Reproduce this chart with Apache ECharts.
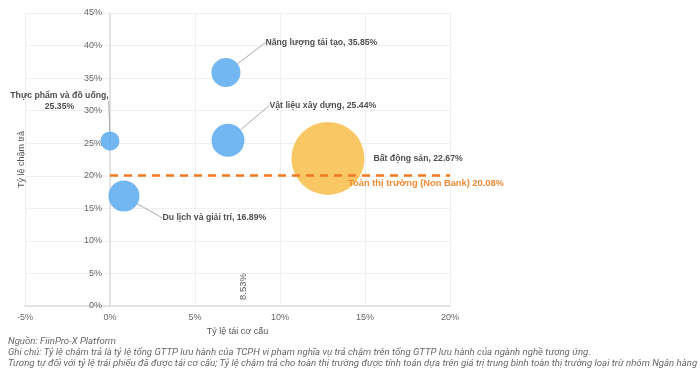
<!DOCTYPE html>
<html><head><meta charset="utf-8">
<script src="https://cdn.jsdelivr.net/npm/echarts@6/dist/echarts.min.js"></script>
<style>html,body{margin:0;padding:0;background:#fff}#c{width:700px;height:382px}</style>
</head><body><div id="c"></div>
<script>
var sectors = ['Năng lượng tái tạo', 'Thực phẩm và đồ uống', 'Vật liệu xây dựng', 'Du lịch và giải trí', 'Bất động sản'];
var restructureRate = [6.82, 0.0, 6.94, 0.82, 12.82];   // x, %
var lateRate = [35.85, 25.35, 25.44, 16.89, 22.67];      // y, %
var bubbleSize = [8.4, 3.6, 10.9, 9.6, 53.3];            // bubble magnitude
var sectorColor = ['blue', 'blue', 'blue', 'blue', 'orange'];
var marketName = 'Toàn thị trường (Non Bank)';
var marketRate = 20.08;
var strayLabel = ['8.53%'];
var strayX = [7.82];
var xTicks = [-5, 0, 5, 10, 15, 20];
var yTicks = [0, 5, 10, 15, 20, 25, 30, 35, 40, 45];
var notes = [
  'Nguồn: FiinPro-X Platform',
  'Ghi chú: Tỷ lệ chậm trả là tỷ lệ tổng GTTP lưu hành của TCPH vi phạm nghĩa vụ trả chậm trên tổng GTTP lưu hành của ngành nghề tương ứng.',
  'Tương tự đối với tỷ lệ trái phiếu đã được tái cơ cấu; Tỷ lệ chậm trả cho toàn thị trường được tính toán dựa trên giá trị trung bình toàn thị trường loại trừ nhóm Ngân hàng'
];

var COLORS = {blue: '#4fa5ee', orange: '#f7b93c'};
var labelOffsets = [[20, -30], [-36, -40], [20, -35], [18, 22], [4, 0]];

var data = sectors.map(function (s, i) {
  var item = {
    name: s,
    value: [restructureRate[i], lateRate[i], bubbleSize[i]],
    itemStyle: {color: COLORS[sectorColor[i]]}
  };
  if (i === 1) {
    item.label = {position: 'left', align: 'center'};
  }
  if (i === 4) {
    item.labelLine = {show: false};
  }
  return item;
});

var chart = echarts.init(document.getElementById('c'));
chart.setOption({
  animation: false,
  textStyle: {fontFamily: 'Liberation Sans, Arial, sans-serif'},
  grid: {left: 25, right: 250, top: 13, bottom: 76, containLabel: false, outerBoundsMode: 'none'},
  title: {
    text: notes.join('\n'),
    left: 8, top: 336, padding: 0,
    textStyle: {fontFamily: 'Roboto', fontStyle: 'italic', fontWeight: 'normal', fontSize: 9.6, color: '#666', lineHeight: 11}
  },
  xAxis: {
    type: 'value', min: xTicks[0], max: xTicks[xTicks.length - 1], interval: 5,
    name: 'Tỷ lệ tái cơ cấu', nameLocation: 'middle', nameGap: 21,
    nameTextStyle: {color: '#555', fontSize: 9},
    axisLine: {show: true, lineStyle: {color: '#ddd', width: 1.5}},
    axisTick: {show: false},
    axisLabel: {formatter: '{value}%', color: '#666', fontSize: 9, margin: 7},
    splitLine: {show: true, lineStyle: {color: '#f0f0f0'}}
  },
  yAxis: {
    type: 'value', min: yTicks[0], max: yTicks[yTicks.length - 1], interval: 5,
    offset: -85,
    name: 'Tỷ lệ chậm trả', nameLocation: 'middle', nameGap: 84,
    nameTextStyle: {color: '#555', fontSize: 9},
    axisLine: {show: true, onZero: false, lineStyle: {color: '#ddd', width: 1.5}},
    axisTick: {show: false},
    axisLabel: {formatter: '{value}%', color: '#666', fontSize: 9, margin: 8},
    splitLine: {show: true, lineStyle: {color: '#f0f0f0'}}
  },
  series: [{
    type: 'scatter',
    data: data,
    symbolSize: function (v) { return Math.sqrt(v[2]) * 10; },
    label: {
      show: true, position: 'right',
      formatter: function (p) { return p.name + (p.dataIndex === 1 ? ',\n' : ', ') + p.value[1].toFixed(2) + '%'; },
      color: '#222', fontWeight: 'bold', fontSize: 8.7, lineHeight: 11
    },
    labelLine: {show: true, length2: 0, lineStyle: {color: '#aaa', width: 1}},
    labelLayout: function (p) {
      var o = labelOffsets[p.dataIndex];
      return {dx: o[0], dy: o[1]};
    },
    emphasis: {disabled: true},
    markLine: {
      silent: true, symbol: 'none',
      lineStyle: {color: '#ee7a22', type: [8, 6], width: 2.5},
      label: {show: false},
      data: [[{coord: [0, marketRate]}, {coord: [xTicks[xTicks.length - 1], marketRate]}]]
    },
    markPoint: {
      symbol: 'circle', symbolSize: 0,
      label: {
        show: true, position: 'bottom', offset: [-24, 0], distance: 4,
        formatter: marketName + ' ' + marketRate.toFixed(2) + '%',
        color: '#ee8a34', fontWeight: 'bold', fontSize: 9.3
      },
      data: [{coord: [xTicks[xTicks.length - 1], marketRate]}]
    }
  }, {
    type: 'scatter',
    symbolSize: 0,
    silent: true,
    data: strayX.map(function (x, i) { return {value: [x, 0], name: strayLabel[i]}; }),
    label: {
      show: true, position: 'top', rotate: 90, distance: 6, align: 'left', verticalAlign: 'middle',
      formatter: '{b}', color: '#333', fontSize: 9.5
    }
  }]
});
</script></body></html>
